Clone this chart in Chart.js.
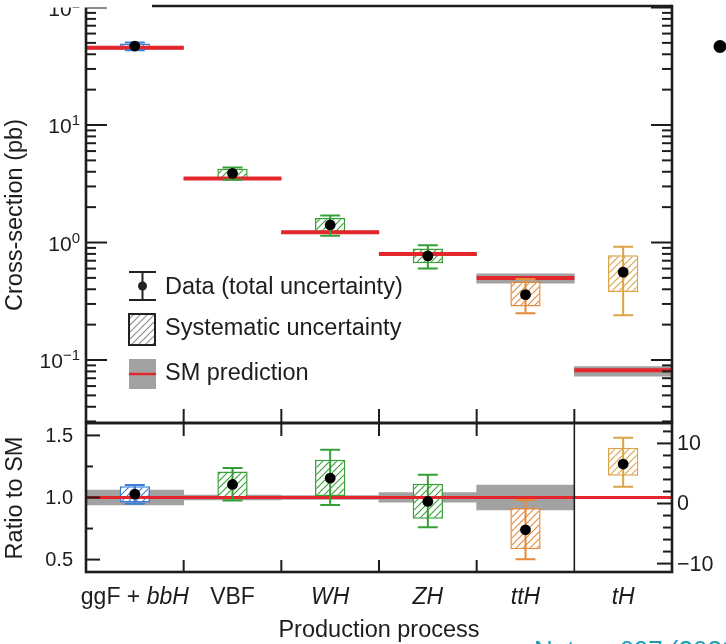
<!DOCTYPE html>
<html>
<head>
<meta charset="utf-8">
<title>Higgs boson production cross-sections</title>
<script src="https://cdn.jsdelivr.net/npm/chart.js@4.4.1/dist/chart.umd.min.js"></script>
<style>
  html, body { margin: 0; padding: 0; background: #fff; }
  #wrap { position: relative; width: 726px; height: 644px; overflow: hidden; }
  #wrap canvas { position: absolute; left: 0; top: 0; }
</style>
</head>
<body>
<div id="wrap">
  <canvas id="xsChart" width="726" height="644"></canvas>
  <canvas id="ratioChart" width="726" height="644"></canvas>
</div>
<script>
// categories
const processes = ['ggF + bbH', 'VBF', 'WH', 'ZH', 'ttH', 'tH'];
const procColors = ['#3b7fd8', '#35a035', '#35a035', '#35a035', '#e5893b', '#d9a447'];

// upper panel: cross-section (pb)
const xsSM      = [45.5, 3.50, 1.22, 0.80, 0.50, 0.082];
const xsSMLow   = [44.3, 3.44, 1.19, 0.78, 0.45, 0.073];
const xsSMHigh  = [46.7, 3.56, 1.25, 0.82, 0.54, 0.088];
const xsData    = [47.0, 3.88, 1.41, 0.77, 0.36, 0.56];
const xsSysLow  = [44.0, 3.50, 1.23, 0.665, 0.285, 0.38];
const xsSysHigh = [49.5, 4.25, 1.62, 0.89, 0.465, 0.78];
const xsTotLow  = [43.3, 3.42, 1.14, 0.60, 0.25, 0.24];
const xsTotHigh = [50.3, 4.35, 1.70, 0.95, 0.49, 0.92];

// lower panel: ratio to SM (last entry, tH, is read on the right-hand axis)
const ratioData    = [1.027, 1.105, 1.156, 0.968, 0.74, 6.57];
const ratioSysLow  = [0.96, 1.00, 1.013, 0.828, 0.584, 4.63];
const ratioSysHigh = [1.09, 1.21, 1.304, 1.11, 0.915, 9.29];
const ratioTotLow  = [0.95, 0.976, 0.94, 0.761, 0.503, 2.8];
const ratioTotHigh = [1.10, 1.237, 1.385, 1.183, 0.98, 10.95];
const ratioSMLow   = [0.94, 0.98, 0.985, 0.963, 0.90];
const ratioSMHigh  = [1.06, 1.02, 1.015, 1.04, 1.10];

// tick labels
const xsDecades = [-1, 0, 1, 2];
const minorSignificands = [2, 3, 4, 5, 6, 7, 8, 9];
const ratioTicks = [0.5, 1.0, 1.5];
const ratioMinor = [0.75, 1.25];
const muTicks = [10, 0, -10];
const muMinor = [12, 8, 6, 4, 2, -2, -4, -6, -8];

const FONT = '"Liberation Sans", Arial, Helvetica, sans-serif';
const INK = '#1e1c1d';
const RED = '#e3262b';
const BAND = '#a2a2a2';

function hatch(ctx, color) {
  const t = document.createElement('canvas');
  t.width = 7; t.height = 7;
  const g = t.getContext('2d');
  g.fillStyle = '#fff';
  g.fillRect(0, 0, 7, 7);
  g.strokeStyle = color;
  g.lineWidth = 1.1;
  g.beginPath();
  g.moveTo(-1, 8); g.lineTo(8, -1);
  g.moveTo(-1, 1); g.lineTo(1, -1);
  g.moveTo(6, 8); g.lineTo(8, 6);
  g.stroke();
  return ctx.createPattern(t, 'repeat');
}

const centre = i => i + 0.5;

function smSegments(vals) {
  const pts = [];
  vals.forEach((v, i) => pts.push({x: i, y: v}, {x: i + 1, y: v}, {x: i + 1, y: null}));
  return pts;
}

function errorBar(i, lo, hi, color, axis) {
  const c = centre(i), w = 0.102;
  return {
    type: 'line', yAxisID: axis, order: 1,
    data: [
      {x: c, y: lo}, {x: c, y: hi}, {x: c, y: null},
      {x: c - w, y: lo}, {x: c + w, y: lo}, {x: c, y: null},
      {x: c - w, y: hi}, {x: c + w, y: hi}
    ],
    borderColor: color, borderWidth: 2, pointRadius: 0, spanGaps: false, tension: 0
  };
}

function dots(list, axis) {
  return {
    type: 'scatter', yAxisID: axis, order: 0, data: list,
    pointRadius: 5.4, pointBackgroundColor: '#000', pointBorderWidth: 0
  };
}

function boxes(list, pats, cols, axis) {
  return {
    type: 'bar', yAxisID: axis, order: 3, data: list,
    backgroundColor: pats, borderColor: cols, borderWidth: 1.5,
    barPercentage: 0.31, categoryPercentage: 1, grouped: false, borderSkipped: false
  };
}

function bands(list, axis) {
  return {
    type: 'bar', yAxisID: axis, order: 4, data: list,
    backgroundColor: BAND, borderWidth: 0,
    barPercentage: 1, categoryPercentage: 1, grouped: false
  };
}

function text(ctx, s, x, y, size, align, italic) {
  ctx.font = (italic ? 'italic ' : '') + size + 'px ' + FONT;
  ctx.textAlign = align;
  ctx.fillText(s, x, y);
}

function line(ctx, x0, y0, x1, y1) {
  ctx.beginPath(); ctx.moveTo(x0, y0); ctx.lineTo(x1, y1); ctx.stroke();
}

// ---------- upper panel ----------
const xsCanvas = document.getElementById('xsChart');
const xsCtx = xsCanvas.getContext('2d');
const idx = processes.map((_, i) => i);
const xsPats = procColors.map(c => hatch(xsCtx, c));

const upperSets = [
  dots(idx.map(i => ({x: centre(i), y: xsData[i]})), 'y'),
  ...idx.map(i => errorBar(i, xsTotLow[i], xsTotHigh[i], procColors[i], 'y')),
  { type: 'line', order: 2, data: smSegments(xsSM), borderColor: RED, borderWidth: 4,
    pointRadius: 0, spanGaps: false },
  boxes(idx.map(i => ({x: centre(i), y: [xsSysLow[i], xsSysHigh[i]]})), xsPats, procColors, 'y'),
  bands(idx.map(i => ({x: centre(i), y: [xsSMLow[i], xsSMHigh[i]]})), 'y')
];

const xsDecor = {
  id: 'xsDecor',
  afterDraw(chart) {
    const {ctx, chartArea: a, scales: {x, y}} = chart;
    ctx.save();
    ctx.strokeStyle = INK;
    ctx.fillStyle = INK;
    ctx.lineWidth = 2;
    // inward log ticks on both sides
    xsDecades.concat([-2]).forEach(e => {
      const vals = [{v: Math.pow(10, e), len: 21}].concat(
        minorSignificands.map(s => ({v: s * Math.pow(10, e), len: 10})));
      vals.forEach(t => {
        const py = y.getPixelForValue(t.v);
        if (py < a.top || py > a.bottom) return;
        line(ctx, a.left, py, a.left + t.len, py);
        line(ctx, a.right, py, a.right - t.len, py);
      });
    });
    // process boundaries
    for (let i = 1; i < processes.length; i++) {
      const px = x.getPixelForValue(i);
      line(ctx, px, a.bottom, px, a.bottom - 14);
    }
    // frame
    ctx.lineWidth = 2.6;
    line(ctx, a.left, a.top, a.left, a.bottom);
    line(ctx, a.right, a.top - 1.3, a.right, a.bottom);
    line(ctx, 152, a.top, a.right, a.top);
    line(ctx, a.left, a.bottom, a.right, a.bottom);
    // decade labels
    ctx.textBaseline = 'alphabetic';
    xsDecades.forEach(e => {
      const py = y.getPixelForValue(Math.pow(10, e));
      const sup = e < 0 ? '\u2212' + (-e) : String(e);
      ctx.font = '15px ' + FONT;
      const ws = ctx.measureText(sup).width;
      ctx.font = '21px ' + FONT;
      const wm = ctx.measureText('10').width;
      text(ctx, '10', 80 - ws - wm, py + 8, 21, 'left');
      text(ctx, sup, 80 - ws, py, 15, 'left');
    });
    // axis title
    ctx.save();
    ctx.translate(22, 215);
    ctx.rotate(-Math.PI / 2);
    ctx.textBaseline = 'alphabetic';
    text(ctx, 'Cross-section (pb)', 0, 0, 23.5, 'center');
    ctx.restore();
    // legend
    const l0 = 129, l1 = 156, lc = 142.5;
    ctx.strokeStyle = '#222';
    ctx.lineWidth = 2;
    line(ctx, lc, 272, lc, 300);
    line(ctx, l0, 272, l1, 272);
    line(ctx, l0, 300, l1, 300);
    ctx.fillStyle = '#222';
    ctx.beginPath(); ctx.arc(lc, 286, 4.5, 0, 2 * Math.PI); ctx.fill();
    ctx.fillStyle = hatch(ctx, '#8c8c8c');
    ctx.fillRect(l0, 314, 26, 31);
    ctx.strokeRect(l0, 314, 26, 31);
    ctx.fillStyle = BAND;
    ctx.fillRect(l0, 359, 27, 30);
    ctx.strokeStyle = RED;
    ctx.lineWidth = 2.5;
    line(ctx, l0, 374, l1, 374);
    ctx.fillStyle = INK;
    ctx.textBaseline = 'middle';
    text(ctx, 'Data (total uncertainty)', 165, 288, 23.5, 'left');
    text(ctx, 'Systematic uncertainty', 165, 329, 23.5, 'left');
    text(ctx, 'SM prediction', 165, 374, 23.5, 'left');
    // slide remnants
    ctx.fillStyle = '#fff';
    ctx.fillRect(0, 0, 152, 7.5);
    ctx.fillStyle = '#000';
    ctx.beginPath(); ctx.arc(720, 46.5, 6.5, 0, 2 * Math.PI); ctx.fill();
    ctx.restore();
  }
};

new Chart(xsCanvas, {
  type: 'bar',
  data: { datasets: upperSets },
  options: {
    responsive: false, animation: false, devicePixelRatio: 1, events: [],
    layout: { padding: { left: 86, right: 54, top: 6, bottom: 221 } },
    scales: {
      x: { type: 'linear', min: 0, max: 6, offset: false, display: false, ticks: { stepSize: 1 } },
      y: { type: 'logarithmic', min: 0.0291, max: 103, beginAtZero: false, display: false }
    },
    plugins: { legend: { display: false }, tooltip: { enabled: false } }
  },
  plugins: [xsDecor]
});

// ---------- lower panel ----------
const rCanvas = document.getElementById('ratioChart');
const rCtx = rCanvas.getContext('2d');
const rPats = procColors.map(c => hatch(rCtx, c));
const left = idx.slice(0, 5);
const th = 5;

const lowerSets = [
  dots(left.map(i => ({x: centre(i), y: ratioData[i]})), 'y'),
  dots([{x: centre(th), y: ratioData[th]}], 'y2'),
  ...left.map(i => errorBar(i, ratioTotLow[i], ratioTotHigh[i], procColors[i], 'y')),
  errorBar(th, ratioTotLow[th], ratioTotHigh[th], procColors[th], 'y2'),
  { type: 'line', order: 2, data: [{x: 0, y: 1}, {x: processes.length, y: 1}],
    borderColor: RED, borderWidth: 3, pointRadius: 0 },
  boxes(left.map(i => ({x: centre(i), y: [ratioSysLow[i], ratioSysHigh[i]]})),
        rPats.slice(0, 5), procColors.slice(0, 5), 'y'),
  boxes([{x: centre(th), y: [ratioSysLow[th], ratioSysHigh[th]]}], [rPats[th]], [procColors[th]], 'y2'),
  bands(left.map(i => ({x: centre(i), y: [ratioSMLow[i], ratioSMHigh[i]]})), 'y')
];

const ratioDecor = {
  id: 'ratioDecor',
  afterDraw(chart) {
    const {ctx, chartArea: a, scales: {x, y, y2}} = chart;
    ctx.save();
    ctx.strokeStyle = INK;
    ctx.fillStyle = INK;
    ctx.lineWidth = 2;
    ratioTicks.forEach(v => { const py = y.getPixelForValue(v); line(ctx, a.left, py, a.left + 14, py); });
    ratioMinor.forEach(v => { const py = y.getPixelForValue(v); line(ctx, a.left, py, a.left + 7, py); });
    muTicks.forEach(v => { const py = y2.getPixelForValue(v); line(ctx, a.right, py, a.right - 15, py); });
    muMinor.forEach(v => { const py = y2.getPixelForValue(v); line(ctx, a.right, py, a.right - 9, py); });
    for (let i = 1; i < processes.length - 1; i++) {
      const px = x.getPixelForValue(i);
      line(ctx, px, a.top, px, a.top + 13);
      line(ctx, px, a.bottom, px, a.bottom - 12);
    }
    ctx.lineWidth = 1.6;
    const sep = x.getPixelForValue(processes.length - 1);
    line(ctx, sep, a.top, sep, a.bottom);
    ctx.lineWidth = 2.6;
    ctx.strokeRect(a.left, a.top, a.right - a.left, a.bottom - a.top);
    // tick labels
    ctx.textBaseline = 'middle';
    ratioTicks.forEach(v => text(ctx, v.toFixed(1), 73, y.getPixelForValue(v) + 1, 20, 'right'));
    muTicks.forEach(v => text(ctx, (v < 0 ? '\u2212' : '') + Math.abs(v), 677, y2.getPixelForValue(v) + 1, 21.5, 'left'));
    // category labels
    const ly = 598;
    processes.forEach((p, i) => {
      const px = x.getPixelForValue(centre(i));
      if (p === 'ggF + bbH') {
        ctx.font = '23px ' + FONT;
        const w1 = ctx.measureText('ggF + ').width;
        ctx.font = 'italic 23px ' + FONT;
        const w2 = ctx.measureText('bbH').width;
        const x0 = px - (w1 + w2) / 2;
        text(ctx, 'ggF + ', x0, ly, 23, 'left');
        text(ctx, 'bbH', x0 + w1, ly, 23, 'left', true);
      } else {
        text(ctx, p, px, ly, 23, 'center', p !== 'VBF');
      }
    });
    text(ctx, 'Production process', (a.left + a.right) / 2, 631, 23.5, 'center');
    ctx.save();
    ctx.translate(22, 498);
    ctx.rotate(-Math.PI / 2);
    ctx.textBaseline = 'alphabetic';
    text(ctx, 'Ratio to SM', 0, 0, 23.5, 'center');
    ctx.restore();
    // citation cut by the page edge
    ctx.fillStyle = '#1e9cb6';
    ctx.textBaseline = 'alphabetic';
    text(ctx, 'Nature 607 (2022)', 534, 659, 26, 'left');
    ctx.restore();
  }
};

new Chart(rCanvas, {
  type: 'bar',
  data: { datasets: lowerSets },
  options: {
    responsive: false, animation: false, devicePixelRatio: 1, events: [],
    layout: { padding: { left: 86, right: 54, top: 423, bottom: 72 } },
    scales: {
      x: { type: 'linear', min: 0, max: 6, offset: false, display: false, ticks: { stepSize: 1 } },
      y: { type: 'linear', min: 0.4, max: 1.6, beginAtZero: false, display: false },
      y2: { type: 'linear', min: -11.4, max: 13.4, beginAtZero: false, display: false }
    },
    plugins: { legend: { display: false }, tooltip: { enabled: false } }
  },
  plugins: [ratioDecor]
});
</script>
</body>
</html>
